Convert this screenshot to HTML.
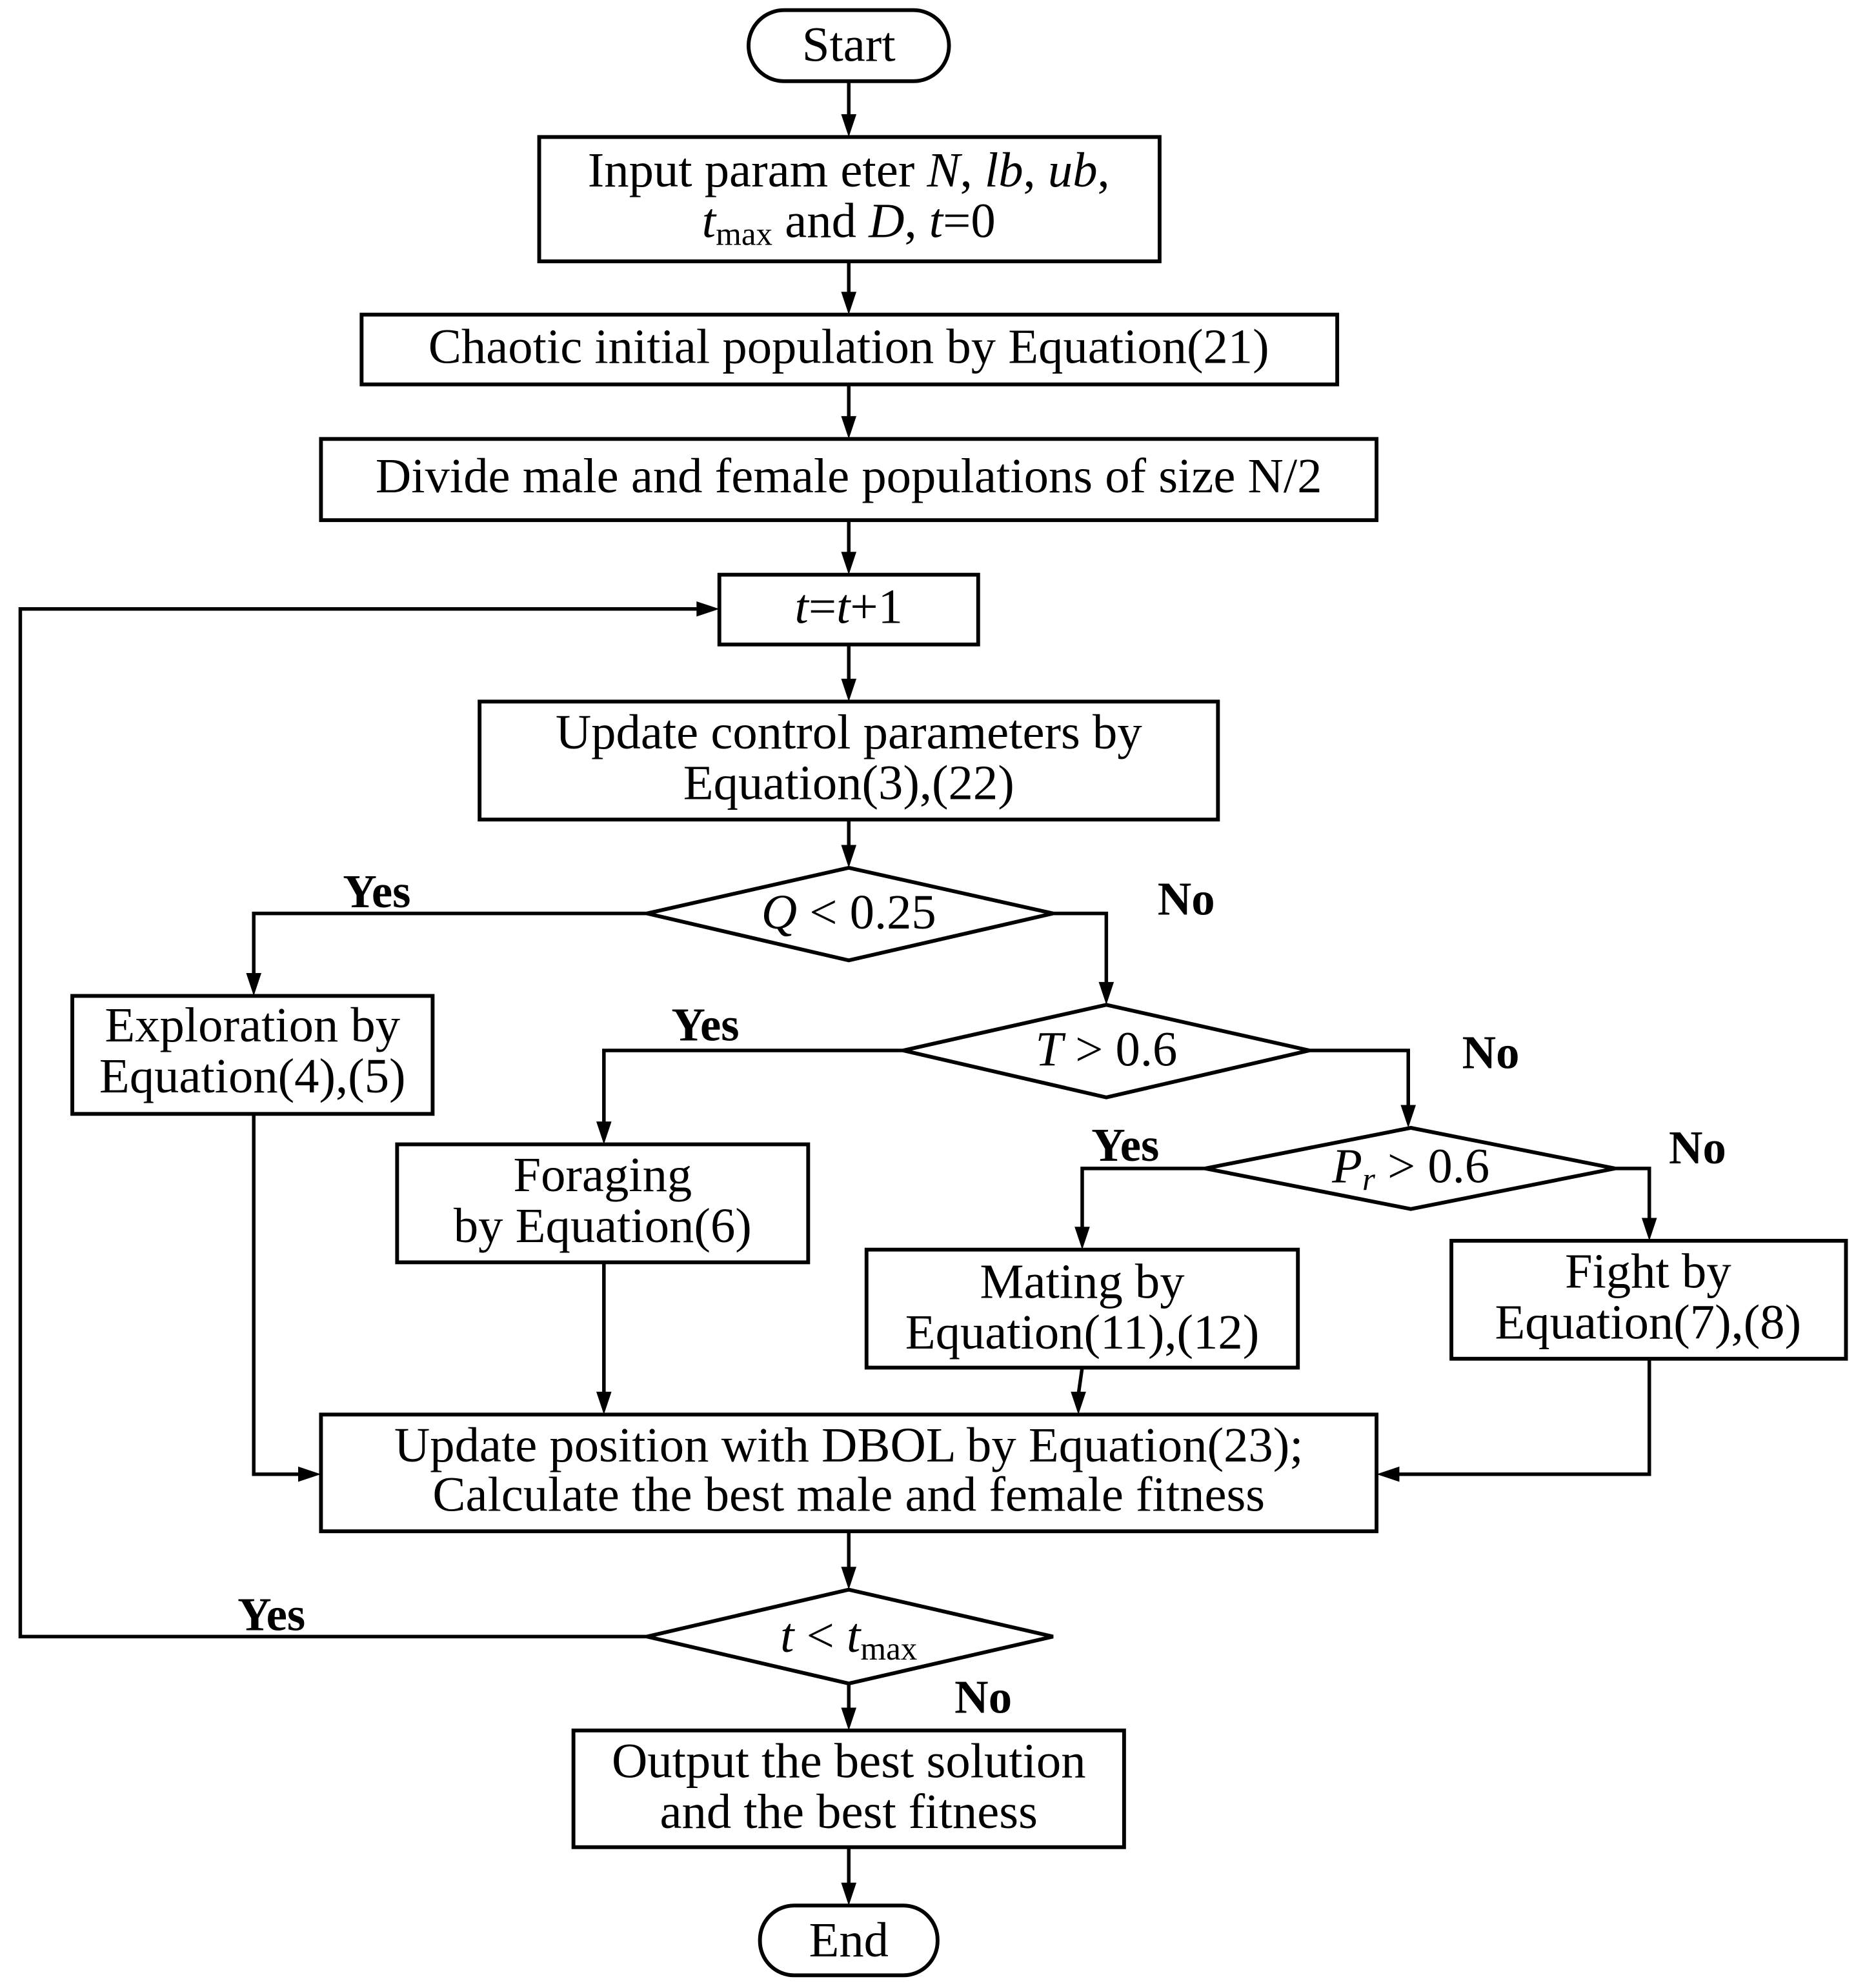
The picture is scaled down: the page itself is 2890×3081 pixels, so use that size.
<!DOCTYPE html>
<html><head><meta charset="utf-8"><style>html,body{margin:0;padding:0;background:#fff}svg{display:block}</style></head>
<body>
<svg width="2890" height="3081" viewBox="0 0 1470 1567" preserveAspectRatio="none" xmlns="http://www.w3.org/2000/svg" font-family="'Liberation Serif', serif" font-size="39">
<g fill="none" stroke="#000" stroke-width="3">
<rect x="590" y="8" width="158" height="56" rx="28"/>
<rect x="425" y="108" width="489" height="98"/>
<rect x="285" y="248" width="769" height="55"/>
<rect x="253" y="346" width="832" height="64"/>
<rect x="567" y="453" width="204" height="55"/>
<rect x="378" y="553" width="582" height="93"/>
<polygon points="510,720 669,684 830,720 669,757"/>
<rect x="57" y="785" width="284" height="93"/>
<polygon points="712,828 872,792 1032,828 872,865"/>
<rect x="313" y="902" width="324" height="93"/>
<polygon points="950,921 1112,889 1273,921 1112,953"/>
<rect x="683" y="985" width="340" height="93"/>
<rect x="1144" y="978" width="311" height="93"/>
<rect x="253" y="1115" width="832" height="92"/>
<polygon points="510,1290 669,1253 830,1290 669,1327"/>
<rect x="452" y="1364" width="434" height="92"/>
<rect x="599" y="1502" width="140" height="55" rx="27"/>
</g>
<g fill="none" stroke="#000" stroke-width="2.8">
<path d="M669 64V92M669 206V232M669 303V330M669 410V437M669 508V537M669 646V668"/>
<path d="M510 720H200V769M830 720H872V776M712 828H476V886M1032 828H1110V873M950 921H853V969M1273 921H1300V962"/>
<path d="M200 878V1162H237M476 995V1099M853 1078L850 1099M1300 1071V1162H1101"/>
<path d="M669 1207V1237M669 1327V1348M669 1456V1486"/>
<path d="M510 1290H16V480H551"/>
</g>
<g fill="#000">
<polygon points="663,90 675,90 669,108"/>
<polygon points="663,230 675,230 669,248"/>
<polygon points="663,328 675,328 669,346"/>
<polygon points="663,435 675,435 669,453"/>
<polygon points="663,535 675,535 669,553"/>
<polygon points="663,666 675,666 669,684"/>
<polygon points="194,767 206,767 200,785"/>
<polygon points="866,774 878,774 872,792"/>
<polygon points="470,884 482,884 476,902"/>
<polygon points="1104,871 1116,871 1110,889"/>
<polygon points="847,967 859,967 853,985"/>
<polygon points="1294,960 1306,960 1300,978"/>
<polygon points="235,1156 235,1168 253,1162"/>
<polygon points="470,1097 482,1097 476,1115"/>
<polygon points="844,1097 856,1097 850,1115"/>
<polygon points="1103,1156 1103,1168 1085,1162"/>
<polygon points="663,1235 675,1235 669,1253"/>
<polygon points="663,1346 675,1346 669,1364"/>
<polygon points="663,1484 675,1484 669,1502"/>
<polygon points="549,474 549,486 567,480"/>
</g>
<g text-anchor="middle" fill="#000">
<text x="669" y="48">Start</text>
<text x="669" y="147">Input param eter <tspan font-style="italic">N</tspan>, <tspan font-style="italic">lb</tspan>, <tspan font-style="italic">ub</tspan>,</text>
<text x="669" y="187"><tspan font-style="italic">t</tspan><tspan font-size="26" dy="6">max</tspan><tspan dy="-6"> and </tspan><tspan font-style="italic">D</tspan>, <tspan font-style="italic">t</tspan>=0</text>
<text x="669" y="286">Chaotic initial population by Equation(21)</text>
<text x="669" y="388">Divide male and female populations of size N/2</text>
<text x="669" y="491"><tspan font-style="italic">t</tspan>=<tspan font-style="italic">t</tspan>+1</text>
<text x="669" y="590">Update control parameters by</text>
<text x="669" y="630">Equation(3),(22)</text>
<text x="669" y="732"><tspan font-style="italic">Q</tspan> &lt; 0.25</text>
<text x="199" y="821">Exploration by</text>
<text x="199" y="861">Equation(4),(5)</text>
<text x="872" y="840"><tspan font-style="italic">T</tspan> &gt; 0.6</text>
<text x="475" y="939">Foraging</text>
<text x="475" y="979">by Equation(6)</text>
<text x="1112" y="932"><tspan font-style="italic">P</tspan><tspan font-style="italic" font-size="26" dy="6">r</tspan><tspan dy="-6"> &gt; 0.6</tspan></text>
<text x="853" y="1023">Mating by</text>
<text x="853" y="1063">Equation(11),(12)</text>
<text x="1299" y="1015">Fight by</text>
<text x="1299" y="1055">Equation(7),(8)</text>
<text x="669" y="1152">Update position with DBOL by Equation(23);</text>
<text x="669" y="1191">Calculate the best male and female fitness</text>
<text x="669" y="1302"><tspan font-style="italic">t</tspan> &lt; <tspan font-style="italic">t</tspan><tspan font-size="26" dy="6">max</tspan></text>
<text x="669" y="1401">Output the best solution</text>
<text x="669" y="1441">and the best fitness</text>
<text x="669" y="1542">End</text>
</g>
<g text-anchor="middle" font-weight="bold" font-size="37" fill="#000">
<text x="297" y="715">Yes</text>
<text x="935" y="721">No</text>
<text x="556" y="820">Yes</text>
<text x="1175" y="842">No</text>
<text x="887" y="915">Yes</text>
<text x="1338" y="917">No</text>
<text x="214" y="1285">Yes</text>
<text x="775" y="1350">No</text>
</g>
</svg>
</body></html>
